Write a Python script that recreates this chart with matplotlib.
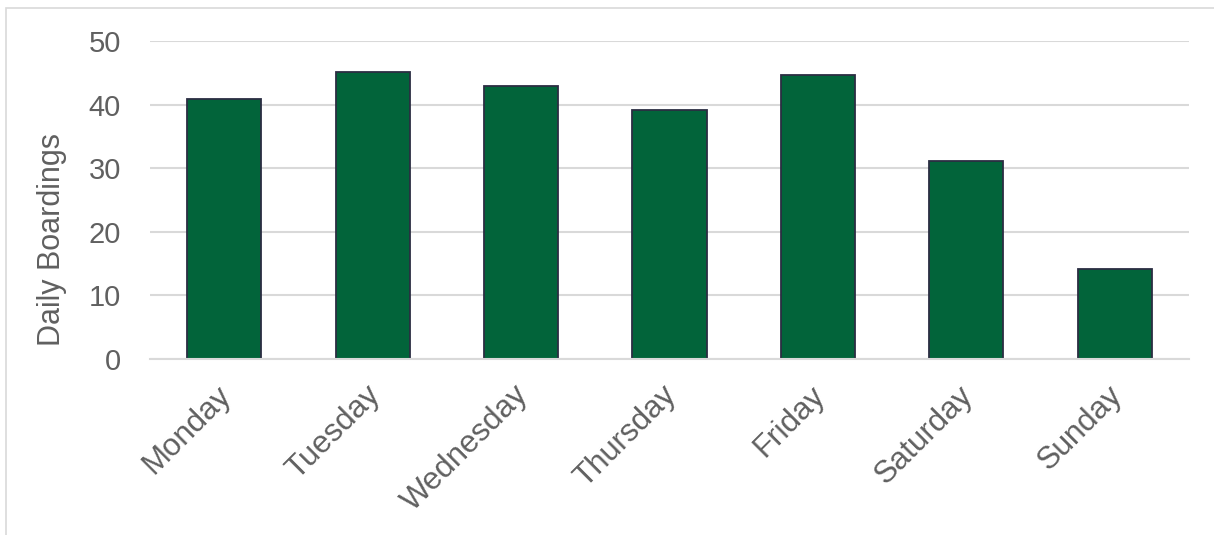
import matplotlib.pyplot as plt
import matplotlib.transforms as mtrans
from matplotlib.patches import Rectangle

days = ["Monday", "Tuesday", "Wednesday", "Thursday", "Friday", "Saturday", "Sunday"]
boardings = [40.9, 45.1, 42.9, 39.2, 44.6, 31.1, 14.1]
yticks = [0, 10, 20, 30, 40, 50]

plt.rcParams['font.family'] = ['Liberation Sans', 'DejaVu Sans']

fig = plt.figure(figsize=(12.14, 5.35), dpi=100)
ax = fig.add_axes([150/1214, 1-359/535, 1039/1214, 318/535])

# chart border (only top/left visible in the reference)
fig.patches.append(Rectangle((6/1214, -0.1), 1.2, 1-8/535+0.1, transform=fig.transFigure,
                             fill=False, edgecolor="#d9d9d9", linewidth=1.2))

ax.bar(range(len(days)), boardings, width=0.5, color="#02643A",
       edgecolor="#2b2d42", linewidth=1.3, zorder=3)

ax.set_xlim(-0.5, len(days) - 0.5)
ax.set_ylim(0, 50)
ax.set_yticks(yticks)
ax.yaxis.grid(True, color="#d9d9d9", linewidth=1.5, zorder=0)
ax.set_axisbelow(True)

for s in ["top", "right", "left"]:
    ax.spines[s].set_visible(False)
ax.spines["bottom"].set_color("#d9d9d9")
ax.spines["bottom"].set_linewidth(1.5)
ax.spines["bottom"].set_zorder(4)

ax.tick_params(axis="y", length=0, labelsize=21, labelcolor="#606060", pad=21)
ax.set_xticks(range(len(days)))
ax.set_xticklabels(days, rotation=45, ha="right", rotation_mode="anchor")
ax.tick_params(axis="x", length=0, labelsize=22.5, labelcolor="#606060", pad=15)
shift = mtrans.ScaledTranslation(-8/100, 0, fig.dpi_scale_trans)
for lbl in ax.get_xticklabels():
    lbl.set_transform(lbl.get_transform() + shift)

ax.set_ylabel("Daily Boardings", fontsize=22, color="#606060")
ax.yaxis.set_label_coords(-83/1039, 120/318)

fig.savefig("out.png", dpi=100)
